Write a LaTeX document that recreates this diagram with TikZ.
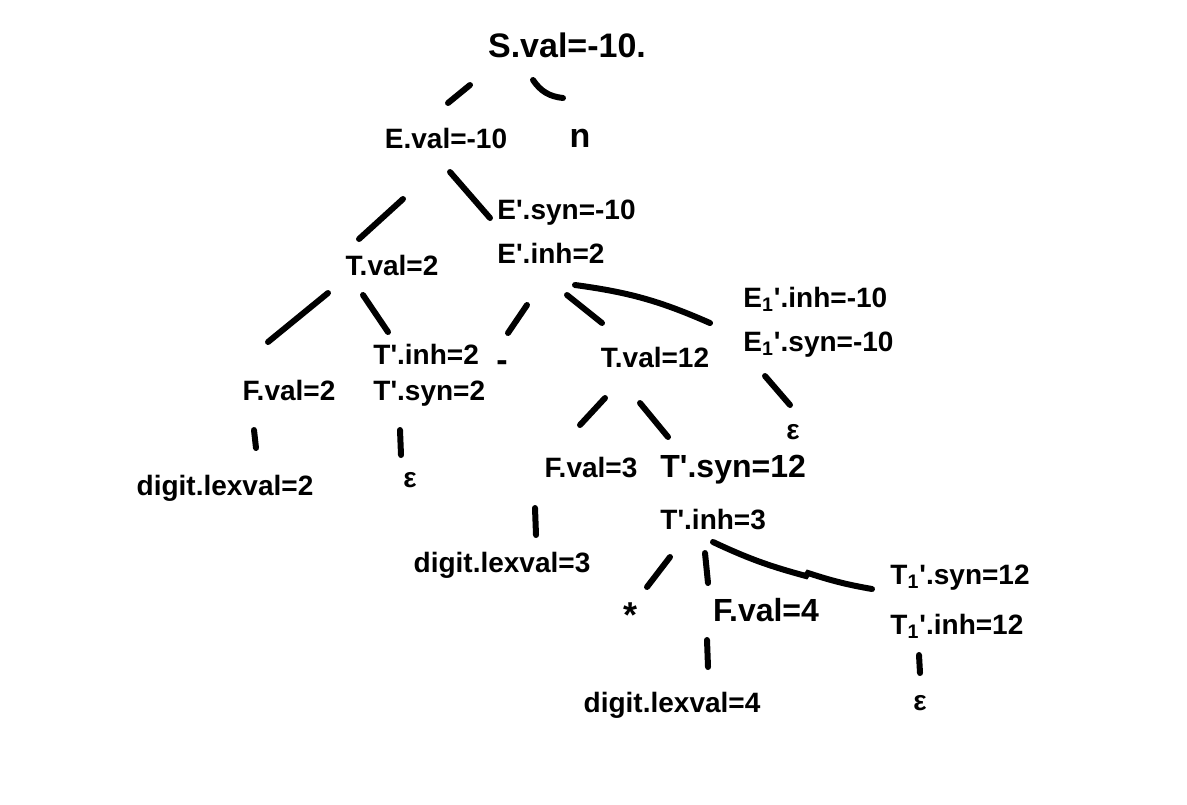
\documentclass[tikz,border=0pt]{standalone}
\usepackage{fontspec}
\setmainfont{Liberation Sans}
\usetikzlibrary{calc}
\newcommand\prm{\textquotesingle}
\newcommand\subone[1]{#1\textsubscript{1}\prm}
\begin{document}
\begin{tikzpicture}[x=0.5pt,y=-0.5pt,
  lbl/.style={inner sep=0pt,font=\fontsize{14}{17}\selectfont\bfseries},
  two/.style={lbl,anchor=west,align=left},
  edge/.style={line width=3pt,line cap=round,black}]
\fill[white] (0,0) rectangle (1187,804);
\useasboundingbox (0,0) rectangle (1187,804);

% nodes
\node[lbl] (S) at (567,45) {\fontsize{17}{20}\selectfont S.val=-10.};
\node[lbl] (E) at (446,138) {E.val=-10};
\node[lbl] (n) at (580,138) {\fontsize{17}{20}\selectfont n};
\node[lbl] (T2) at (392,265) {T.val=2};
\node[two] (Ep) at (497,232) {E\prm.syn=-10\\[5pt]E\prm.inh=2};
\node[lbl] (F2) at (289,390) {F.val=2};
\node[two] (Tp2) at (373,375) {T\prm.inh=2\\[1pt]T\prm.syn=2};
\node[lbl] (minus) at (502,366) {\fontsize{17}{20}\selectfont -};
\node[lbl] (T12) at (655,357) {T.val=12};
\node[two] (E1p) at (743,322) {\subone{E}.inh=-10\\[5pt]\subone{E}.syn=-10};
\node[lbl] (eps1) at (793,432) {ε};
\node[lbl] (d2) at (225,488) {digit.lexval=2};
\node[lbl] (eps2) at (410,480) {ε};
\node[lbl] (F3) at (591,468) {F.val=3};
\node[two] (Tp3) at (660,492) {\fontsize{16}{19}\selectfont T\prm.syn=12\\[9pt]T\prm.inh=3};
\node[lbl] (d3) at (502,565) {digit.lexval=3};
\node[lbl] (star) at (630,615) {\fontsize{18}{20}\selectfont *};
\node[lbl] (F4) at (766,610) {\fontsize{16}{19}\selectfont F.val=4};
\node[two] (T1p) at (890,602) {\subone{T}.syn=12\\[8pt]\subone{T}.inh=12};
\node[lbl] (d4) at (672,705) {digit.lexval=4};
\node[lbl] (eps3) at (920,703) {ε};

% connectors
\draw[edge] ([shift={(-97,40)}]S.center) -- ([shift={(2,-35)}]E.center);
\draw[edge] ([shift={(-34,35)}]S.center) to[bend right=25] ([shift={(-17,-40)}]n.center);
\draw[edge] ([shift={(-43,61)}]E.center) -- ([shift={(-33,-26)}]T2.center);
\draw[edge] ([shift={(4,34)}]E.center) -- ([shift={(-7,-14)}]Ep.west);
\draw[edge] ([shift={(-64,28)}]T2.center) -- ([shift={(-21,-48)}]F2.center);
\draw[edge] ([shift={(-29,30)}]T2.center) -- ([shift={(15,-43)}]Tp2.west);
\draw[edge] ([shift={(30,73)}]Ep.west) -- ([shift={(6,-33)}]minus.center);
\draw[edge] ([shift={(70,63)}]Ep.west) -- ([shift={(-53,-34)}]T12.center);
\draw[edge] ([shift={(78,53)}]Ep.west) to[bend left=8] ([shift={(-33,1)}]E1p.west);
\draw[edge] ([shift={(-35,40)}]F2.center) -- ([shift={(31,-40)}]d2.center);
\draw[edge] ([shift={(27,55)}]Tp2.west) -- ([shift={(-9,-25)}]eps2.center);
\draw[edge] ([shift={(-50,41)}]T12.center) -- ([shift={(-11,-43)}]F3.center);
\draw[edge] ([shift={(-15,46)}]T12.center) -- ([shift={(8,-55)}]Tp3.west);
\draw[edge] ([shift={(22,54)}]E1p.west) -- ([shift={(-3,-27)}]eps1.center);
\draw[edge] ([shift={(-56,40)}]F3.center) -- ([shift={(34,-30)}]d3.center);
\draw[edge] ([shift={(10,65)}]Tp3.west) -- ([shift={(17,-28)}]star.center);
\draw[edge] ([shift={(45,61)}]Tp3.west) -- ([shift={(-58,-27)}]F4.center);
\coordinate (kink) at (806,576);
\draw[edge] ([shift={(53,50)}]Tp3.west) to[bend right=5] (kink) -- ++(2,-3) to[bend right=4] ([shift={(-18,-13)}]T1p.west);
\draw[edge] ([shift={(-59,30)}]F4.center) -- ([shift={(36,-38)}]d4.center);
\draw[edge] ([shift={(29,53)}]T1p.west) -- ([shift={(0,-30)}]eps3.center);
\end{tikzpicture}
\end{document}
